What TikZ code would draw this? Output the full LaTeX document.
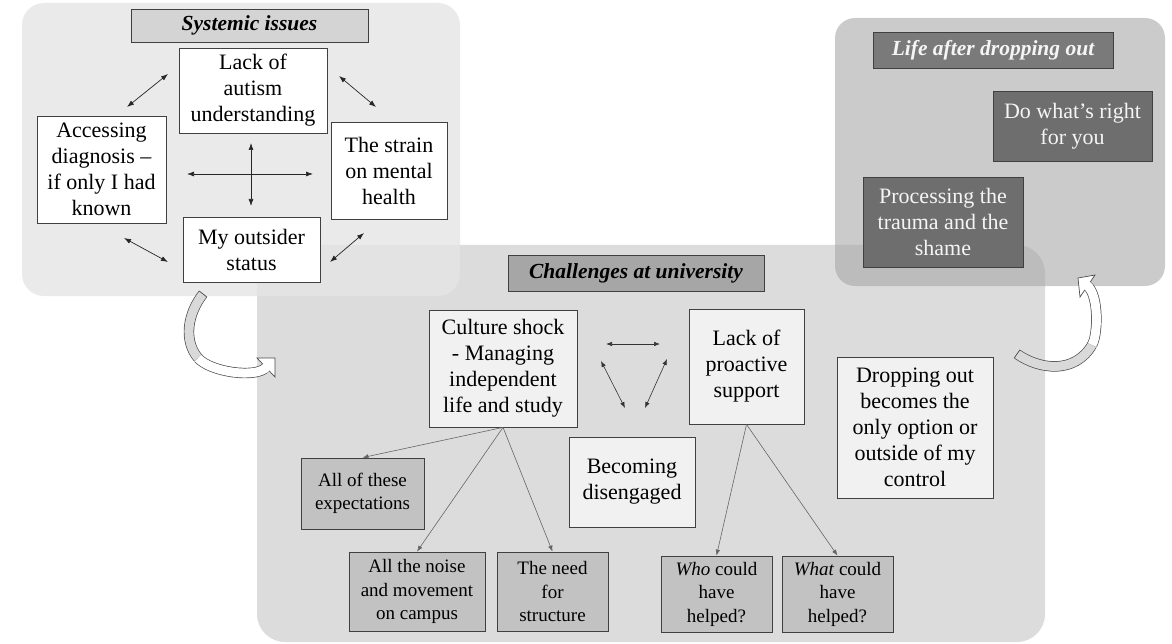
\documentclass[tikz,border=0pt]{standalone}
\usepackage{fontspec}
\setmainfont{Liberation Serif}
\usetikzlibrary{arrows.meta,calc}
\definecolor{sysbg}{gray}{0.90}
\definecolor{chbg}{gray}{0.862}
\definecolor{lifebg}{gray}{0.643}
\definecolor{systit}{gray}{0.83}
\definecolor{chtit}{gray}{0.65}
\definecolor{lifetit}{gray}{0.48}
\definecolor{darkbox}{gray}{0.43}
\definecolor{lightbox}{gray}{0.945}
\definecolor{subbox}{gray}{0.76}
\definecolor{edge}{gray}{0.25}
\begin{document}
\begin{tikzpicture}[x=1pt,y=-1pt,
  box/.style={draw=edge, line width=0.8pt, inner sep=0pt, align=center,
    font=\fontsize{22}{26}\selectfont},
  wbox/.style={box, fill=white},
  lbox/.style={box, fill=lightbox},
  sbox/.style={box, fill=subbox, font=\fontsize{19}{23.5}\selectfont},
  dbox/.style={box, fill=darkbox, text=white!96!black},
  ttl/.style={box, font=\fontsize{21.5}{26}\selectfont\bfseries\itshape},
  dbl/.style={{Latex[length=7pt,width=5pt]}-{Latex[length=7pt,width=5pt]}, line width=0.7pt, draw=black!85},
  tri/.style={{Latex[length=6pt,width=4.5pt]}-{Latex[length=6pt,width=4.5pt]}, line width=0.6pt, draw=black!80},
  tree/.style={-{Latex[length=6pt,width=4.5pt]}, line width=0.6pt, draw=black!60},
  bodyA/.style={line width=0.7pt, draw=black!70, double distance=9pt},
  headA/.style={line width=0.7pt, draw=black!70, fill=white, line join=miter},
  edgeA/.style={line width=0.7pt, draw=black!70}
]
\useasboundingbox (0,0) rectangle (1172,644);

% panels
\fill[chbg, rounded corners=28pt] (257,245) rectangle (1045,642);
\fill[sysbg, opacity=0.8, rounded corners=22pt] (22,3) rectangle (460,296);
\fill[lifebg, opacity=0.57, rounded corners=20pt] (835,18) rectangle (1165,286);

% Systemic issues
\node[ttl, fill=systit, minimum width=237pt, minimum height=33pt] (sysT) at (249.5,25.5) {Systemic issues};
\node[wbox, minimum width=148pt, minimum height=85pt] (lack) at (253,90.5) {Lack of\\autism\\understanding};
\node[wbox, minimum width=129pt, minimum height=107pt] (acc) at (101.5,169.5) {Accessing\\diagnosis –\\if only I had\\known};
\node[wbox, minimum width=116pt, minimum height=97pt] (strain) at (389,170.5) {The strain\\on mental\\health};
\node[wbox, minimum width=137pt, minimum height=65pt] (outs) at (251.5,249.5) {My outsider\\status};

\coordinate (a1s) at (127,107); \coordinate (a1e) at (168,74);
\coordinate (a2s) at (339,76);  \coordinate (a2e) at (376,107);
\coordinate (a3s) at (124,238); \coordinate (a3e) at (168,262);
\coordinate (a4s) at (330,262); \coordinate (a4e) at (364,233);
\coordinate (vs) at (251,143);  \coordinate (ve) at (251,206);
\coordinate (hs) at (187,174);  \coordinate (he) at (313,174);
\draw[dbl] (a1s) -- (a1e);
\draw[dbl] (a2s) -- (a2e);
\draw[dbl] (a3s) -- (a3e);
\draw[dbl] (a4s) -- (a4e);
\draw[dbl] (vs) -- (ve);
\draw[dbl] (hs) -- (he);

% Challenges at university
\node[ttl, fill=chtit, minimum width=256pt, minimum height=36pt] (chT) at (636,273) {Challenges at university};
\node[lbox, minimum width=148pt, minimum height=117pt] (cult) at (503,368.5) {Culture shock\\- Managing\\independent\\life and study};
\node[lbox, minimum width=115pt, minimum height=115pt] (lps) at (746.5,366.5) {Lack of\\proactive\\support};
\node[lbox, minimum width=126pt, minimum height=90pt] (beco) at (632,482) {Becoming\\disengaged};
\node[lbox, minimum width=156pt, minimum height=141pt] (drop) at (915,427.5) {Dropping out\\becomes the\\only option or\\outside of my\\control};
\node[sbox, minimum width=123pt, minimum height=71pt] (allexp) at (362.5,493.5) {All of these\\expectations};
\node[sbox, minimum width=136pt, minimum height=79pt] (noise) at (417,591.5) {All the noise\\and movement\\on campus};
\node[sbox, minimum width=111pt, minimum height=79pt] (need) at (552.5,591.5) {The need\\for\\structure};
\node[sbox, minimum width=111pt, minimum height=76pt] (who) at (716.5,594) {\textit{Who} could\\have\\helped?};
\node[sbox, minimum width=111pt, minimum height=76pt] (what) at (837.5,594) {\textit{What} could\\have\\helped?};

\draw[tree] (cult.south) -- (allexp.north);
\draw[tree] (cult.south) -- (noise.north);
\draw[tree] (cult.south) -- (need.north);
\draw[tree] (lps.south) -- (who.north);
\draw[tree] (lps.south) -- (what.north);

\coordinate (t1s) at (606,344); \coordinate (t1e) at (660,344);
\coordinate (t2s) at (601,361); \coordinate (t2e) at (625,408);
\coordinate (t3s) at (667,359); \coordinate (t3e) at (645,408);
\draw[tri] (t1s) -- (t1e);
\draw[tri] (t2s) -- (t2e);
\draw[tri] (t3s) -- (t3e);

% Life after dropping out
\node[ttl, fill=lifetit, text=white!96!black, minimum width=240pt, minimum height=36pt] (lifeT) at (993,50) {Life after dropping out};
\node[dbox, minimum width=159pt, minimum height=70pt] (doright) at (1072.5,126) {Do what’s right\\for you};
\node[dbox, minimum width=160pt, minimum height=90pt] (proc) at (943,222) {Processing the\\trauma and the\\shame};

% curved block arrow: systemic -> challenges
\coordinate (lS) at (203,294);
\coordinate (lC1) at (188,313);
\coordinate (lM) at (198,358);
\coordinate (lC4) at (255.6,378.5);
\coordinate (lE) at (266,367.5);
\draw[bodyA, double=gray!30] (lS) .. controls (lC1) and (183,340) .. (lM);
\draw[bodyA, double=white] (lM) .. controls (210,372) and (lC4) .. (lE);
\draw[headA] (275,358) -- (257,358) -- (275,377) -- cycle;
\draw[white, line width=9pt] ($(lE)!3pt!(lC4)$) -- ($(lE)!-3pt!(lC4)$);
\draw[edgeA] ($(lS)!4.85pt!90:(lC1)$) -- ($(lS)!4.85pt!-90:(lC1)$);

% curved block arrow: challenges -> life after
\coordinate (rS) at (1017,354);
\coordinate (rC1) at (1040,370);
\coordinate (rM) at (1092,345);
\coordinate (rC4) at (1099,295.6);
\coordinate (rE) at (1087.5,286);
\draw[bodyA, double=gray!30] (rS) .. controls (rC1) and (1075,374) .. (rM);
\draw[bodyA, double=white] (rM) .. controls (1098,335) and (rC4) .. (rE);
\draw[headA] (1078,278) -- (1095,275) -- (1080,297) -- cycle;
\draw[white, line width=9pt] ($(rE)!3pt!(rC4)$) -- ($(rE)!-3pt!(rC4)$);
\draw[edgeA] ($(rS)!4.85pt!90:(rC1)$) -- ($(rS)!4.85pt!-90:(rC1)$);
\end{tikzpicture}
\end{document}
